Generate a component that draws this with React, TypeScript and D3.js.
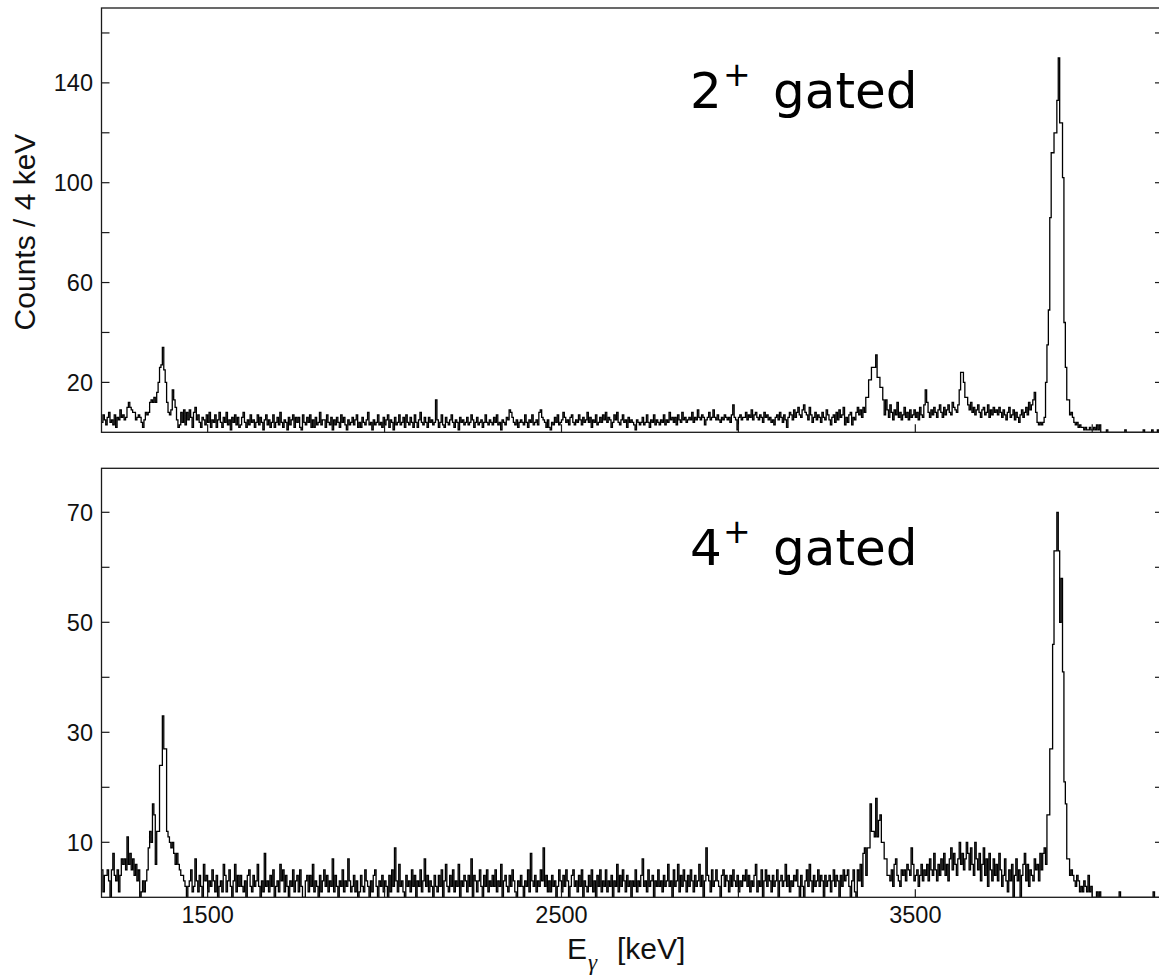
import React from "react";
import * as d3 from "d3";

// ---- data: gamma-ray spectra, 4 keV bins starting at 1200 keV ----
const BIN_START = 1200;
const BIN_WIDTH = 4;

const TOP_COUNTS: number[] = [
  4,7,5,3,6,8,4,5,3,7,2,6,5,9,6,7,5,6,10,
  12,10,9,8,8,5,6,7,6,4,2,5,8,7,8,12,13,12,14,12,
  16,20,26,27,34,25,20,12,8,7,9,17,13,10,5,2,3,8,4,9,
  3,8,5,9,6,2,8,10,5,7,4,2,6,5,3,7,4,8,2,5,
  4,7,2,5,8,4,2,6,4,8,3,5,1,6,4,7,3,6,2,
  3,6,8,4,2,5,3,7,4,5,2,4,7,3,6,4,1,5,7,3,
  5,2,4,7,2,4,6,3,8,4,2,5,4,1,6,3,5,7,2,6,
  4,6,2,1,7,4,3,6,4,7,2,5,2,6,3,4,8,3,5,5,
  2,7,4,3,6,1,5,3,6,4,2,7,4,6,3,1,5,3,4,
  6,3,5,7,2,4,2,6,4,3,5,8,3,4,1,5,3,4,7,3,
  4,2,6,3,5,7,2,5,4,1,6,3,4,7,3,4,6,2,7,4,
  3,6,4,2,7,4,2,5,8,4,3,6,4,2,6,4,5,3,4,13,
  5,2,4,7,3,2,6,4,3,5,7,4,2,5,4,1,6,4,5,3,
  4,6,3,4,7,5,2,4,6,3,4,5,2,4,7,4,3,5,4,
  3,6,4,7,3,4,1,5,4,3,6,5,9,8,6,4,3,5,2,4,
  5,4,3,7,4,2,5,4,7,3,4,5,3,8,9,6,5,4,2,5,
  2,1,4,3,6,4,7,3,4,5,8,6,4,5,3,6,7,4,3,5,
  4,7,5,3,6,4,5,8,4,6,2,5,4,7,3,4,6,4,7,
  5,8,4,6,5,2,4,7,5,8,4,3,5,7,4,5,2,6,4,5,
  4,3,1,5,4,3,4,6,3,4,7,4,2,5,4,7,3,5,4,3,
  5,4,7,3,5,4,8,5,6,4,6,3,7,5,4,8,5,6,4,5,
  6,5,8,4,6,5,9,6,5,7,6,3,5,6,8,5,6,9,6,5,
  7,5,4,6,5,7,6,5,6,4,7,11,6,5,1,6,7,5,6,
  6,8,5,7,6,9,5,7,8,6,5,7,6,4,8,6,7,5,6,4,
  5,3,6,7,5,8,6,4,7,5,2,6,8,7,5,9,6,8,10,7,
  6,9,11,8,7,5,10,7,4,6,8,5,7,6,4,8,6,5,9,7,
  5,3,6,7,4,8,5,9,6,7,10,3,6,4,7,8,3,6,5,
  8,10,7,9,6,10,8,14,14,21,21,26,26,26,31,22,22,18,18,13,
  7,13,9,6,11,8,5,9,7,12,6,8,5,7,10,6,8,5,9,6,
  7,9,6,8,5,10,7,6,11,17,12,8,6,9,7,10,8,6,9,11,
  8,6,10,7,9,11,8,7,12,10,9,8,11,17,24,24,20,14,14,
  11,9,12,8,10,7,9,11,8,6,9,10,7,8,11,6,9,7,10,8,
  9,7,10,8,6,9,7,5,8,10,6,7,9,5,8,6,4,7,9,6,
  8,10,7,12,9,11,13,16,8,4,3,4,3,4,6,20,35,49,86,112,
  112,120,120,133,150,124,124,102,44,26,13,13,7,8,6,4,3,4,2,3,
  2,2,1,2,1,1,2,1,1,2,1,3,1,3,0,0,0,0,1,
  0,0,0,0,0,0,0,0,0,0,0,0,1,0,0,0,0,0,0,0,
  0,0,0,0,0,1,0,0,0,0,0,1,0,0,0,1,0,0,0,
];

const BOTTOM_COUNTS: number[] = [
  5,1,4,4,5,3,0,5,8,4,3,5,1,4,7,6,7,5,11,
  6,8,5,7,4,6,3,5,0,1,3,1,3,5,9,12,10,17,15,6,
  12,12,24,24,33,27,27,12,11,10,9,10,8,6,8,6,5,4,4,3,
  2,0,2,3,5,1,2,7,3,1,4,2,0,6,3,4,1,3,2,5,
  3,1,4,0,2,3,1,6,4,1,3,5,2,0,3,6,1,4,2,
  4,2,1,3,0,4,5,2,1,4,2,3,6,2,0,3,1,8,2,3,
  1,4,2,5,0,2,3,1,6,3,5,1,4,2,0,3,2,5,1,3,
  4,1,5,2,0,0,3,4,1,4,2,6,1,3,2,0,4,1,3,5,
  2,4,1,3,2,7,1,4,2,0,3,2,5,1,3,2,7,3,1,
  2,4,1,3,0,1,4,2,1,5,3,2,0,3,1,4,5,2,0,3,
  2,4,1,3,2,0,4,1,5,2,9,3,1,6,2,3,1,0,4,2,
  3,1,5,2,4,0,3,2,5,1,3,7,2,4,1,3,2,0,4,2,
  1,4,2,5,0,3,6,2,1,4,2,5,1,3,2,6,0,3,2,4,
  3,1,4,2,7,0,4,3,1,3,5,2,0,4,2,5,1,3,2,
  4,2,5,1,3,2,6,0,3,4,2,1,4,2,5,3,1,0,3,2,
  4,2,0,3,2,5,1,8,3,2,4,1,3,2,5,3,9,2,4,1,
  3,1,4,2,3,0,2,5,3,1,4,2,5,3,0,2,4,5,2,3,
  1,4,2,5,0,3,2,1,4,2,5,1,3,0,4,2,5,1,3,
  2,5,1,3,2,4,0,3,2,6,1,4,2,5,3,1,4,2,3,0,
  3,2,5,1,3,2,4,7,2,3,1,5,2,3,4,0,3,2,5,2,
  3,1,4,2,3,6,2,3,0,5,2,3,6,1,4,2,5,3,1,4,
  2,5,3,1,4,2,3,6,2,4,0,3,9,4,3,1,5,2,3,5,
  3,2,0,4,5,2,4,3,1,4,2,5,3,2,4,1,3,2,4,
  3,5,2,4,1,3,2,4,6,1,3,2,5,0,3,5,2,4,3,1,
  4,2,3,5,0,3,4,2,3,6,2,4,1,3,2,4,3,5,2,0,
  4,2,0,3,5,2,6,3,1,4,2,3,5,2,4,3,0,4,2,3,
  4,1,3,5,2,4,3,0,4,2,5,3,4,5,2,0,3,5,1,
  0,5,3,6,2,8,9,4,9,9,17,12,12,11,18,11,14,15,10,10,
  7,7,4,4,3,5,2,6,7,4,3,2,5,4,5,3,6,5,4,9,
  6,3,4,5,2,4,6,3,5,4,6,3,7,5,4,8,5,3,6,4,
  7,5,8,4,6,3,7,9,5,8,6,4,7,10,6,8,5,7,10,
  8,5,9,6,4,10,7,5,8,3,6,9,4,7,2,8,5,3,7,4,
  6,3,8,5,2,4,7,3,1,5,3,6,0,4,7,3,5,0,4,6,
  8,3,6,2,5,4,3,7,5,6,3,8,5,8,9,6,15,15,27,27,
  46,63,63,70,63,50,58,41,21,17,7,7,4,5,4,3,2,4,3,1,
  2,1,3,2,1,4,1,2,0,0,0,1,0,1,0,0,0,0,0,
  0,0,0,0,0,0,0,0,1,0,0,0,0,0,0,0,0,0,0,0,
  0,0,0,0,0,0,0,0,0,0,0,0,1,0,0,0,0,0,0,
];

const X_DOMAIN = [1200, 4200];
const X_TICKS = [1500, 2000, 2500, 3000, 3500, 4000];
const X_TICK_LABELS = [1500, 2500, 3500];

const TOP_Y_MAX = 170;
const TOP_Y_LABELED = [20, 60, 100, 140];
const TOP_Y_MINOR = [40, 80, 120, 160];
const TOP_Y_RIGHT = [20, 40, 60, 80, 100, 120, 140, 160];

const BOT_Y_MAX = 78;
const BOT_Y_LABELED = [10, 30, 50, 70];
const BOT_Y_MINOR = [20, 40, 60];
const BOT_Y_RIGHT = [10, 20, 30, 40, 50, 60, 70];

const TOP_LABEL = { main: "2", sup: "+", rest: "gated" };
const BOT_LABEL = { main: "4", sup: "+", rest: "gated" };

const W = 1159;
const H = 977;
const LEFT = 101.5;
const RIGHT = 1163;
const TICK = 8;
const AXIS_FONT = "'Liberation Sans', Arial, sans-serif";
const LABEL_FONT = "'DejaVu Sans', Verdana, sans-serif";

const x = d3.scaleLinear().domain(X_DOMAIN).range([LEFT, RIGHT]);

type PanelProps = {
  id: string;
  counts: number[];
  top: number;
  bottom: number;
  yMax: number;
  labeled: number[];
  minor: number[];
  right: number[];
  label: { main: string; sup: string; rest: string };
  labelBaseline: number;
  showXLabels: boolean;
};

function Panel(p: PanelProps) {
  const y = d3.scaleLinear().domain([0, p.yMax]).range([p.bottom, p.top]);
  const pts: [number, number][] = p.counts.map((v, i) => [BIN_START + i * BIN_WIDTH, v]);
  pts.push([BIN_START + p.counts.length * BIN_WIDTH, p.counts[p.counts.length - 1]]);
  const line = d3
    .line<[number, number]>()
    .x((d) => x(d[0]))
    .y((d) => y(d[1]))
    .curve(d3.curveStepAfter);
  const path = line(pts) || "";
  return (
    <g>
      <defs>
        <clipPath id={p.id}>
          <rect x={LEFT} y={p.top} width={RIGHT - LEFT} height={p.bottom - p.top} />
        </clipPath>
      </defs>
      <path d={path} fill="none" stroke="#000" strokeWidth={1.3} clipPath={`url(#${p.id})`} />
      <rect x={LEFT} y={p.top} width={RIGHT - LEFT} height={p.bottom - p.top} fill="none" stroke="#1a1a1a" strokeWidth={1.3} />
      {[...p.labeled, ...p.minor].map((t) => (
        <line key={"l" + t} x1={LEFT} x2={LEFT + TICK} y1={y(t)} y2={y(t)} stroke="#1a1a1a" strokeWidth={1.2} />
      ))}
      {p.right.map((t) => (
        <line key={"r" + t} x1={RIGHT - TICK} x2={RIGHT} y1={y(t)} y2={y(t)} stroke="#1a1a1a" strokeWidth={1.2} />
      ))}
      {X_TICKS.map((t) => (
        <line key={"x" + t} x1={x(t)} x2={x(t)} y1={p.bottom} y2={p.bottom - TICK} stroke="#1a1a1a" strokeWidth={1.2} />
      ))}
      {p.labeled.map((t) => (
        <text key={"t" + t} x={93} y={y(t)} dy="0.36em" textAnchor="end" fontFamily={AXIS_FONT} fontSize={23.5} fill="#111">
          {t}
        </text>
      ))}
      {p.showXLabels &&
        X_TICK_LABELS.map((t) => (
          <text key={"xt" + t} x={x(t)} y={923} textAnchor="middle" fontFamily={AXIS_FONT} fontSize={23.5} fill="#111">
            {t}
          </text>
        ))}
      <text fontFamily={LABEL_FONT} fontSize={50} fill="#000">
        <tspan x={690} y={p.labelBaseline}>{p.label.main}</tspan>
        <tspan x={723} y={p.labelBaseline - 22} fontSize={33}>{p.label.sup}</tspan>
        <tspan x={773} y={p.labelBaseline}>{p.label.rest}</tspan>
      </text>
    </g>
  );
}

export default function App() {
  return (
    <svg
      width={W}
      height={H}
      viewBox={`0 0 ${W} ${H}`}
      style={{ position: "absolute", left: 0, top: 0, background: "#fff" }}
    >
      <rect x={0} y={0} width={W} height={H} fill="#fff" />
      <Panel
        id="clipTop"
        counts={TOP_COUNTS}
        top={8}
        bottom={432.3}
        yMax={TOP_Y_MAX}
        labeled={TOP_Y_LABELED}
        minor={TOP_Y_MINOR}
        right={TOP_Y_RIGHT}
        label={TOP_LABEL}
        labelBaseline={108}
        showXLabels={false}
      />
      <Panel
        id="clipBot"
        counts={BOTTOM_COUNTS}
        top={468.3}
        bottom={897.3}
        yMax={BOT_Y_MAX}
        labeled={BOT_Y_LABELED}
        minor={BOT_Y_MINOR}
        right={BOT_Y_RIGHT}
        label={BOT_LABEL}
        labelBaseline={565}
        showXLabels={true}
      />
      <text
        transform="translate(35,232) rotate(-90)"
        textAnchor="middle"
        fontFamily={AXIS_FONT}
        fontSize={30}
        fill="#111"
      >
        Counts / 4 keV
      </text>
      <text fontFamily={AXIS_FONT} fontSize={30} fill="#111">
        <tspan x={567} y={959}>E</tspan>
        <tspan x={588} y={970} fontSize={23} fontFamily="'Liberation Serif', 'Times New Roman', serif" fontStyle="italic">γ</tspan>
        <tspan x={617} y={959}>[keV]</tspan>
      </text>
    </svg>
  );
}
